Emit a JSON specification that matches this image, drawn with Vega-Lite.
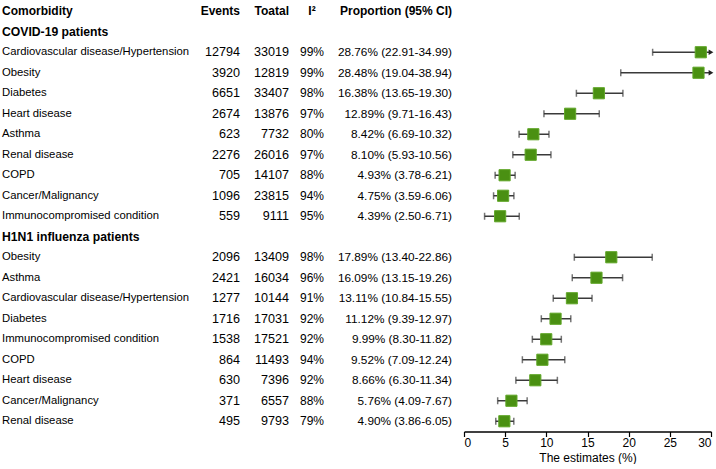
{
  "$schema": "https://vega.github.io/schema/vega-lite/v6.json",
  "padding": {"top": 1, "left": 2, "right": 5, "bottom": 0},
  "bounds": "flush",
  "spacing": 12,
  "background": "white",
  "config": {
    "view": {"stroke": null},
    "font": "Liberation Sans",
    "text": {"font": "Liberation Sans", "fontSize": 12, "color": "black", "baseline": "middle"},
    "axis": {"labelFont": "Liberation Sans", "titleFont": "Liberation Sans"}
  },
  "resolve": {"scale": {"y": "shared"}},
  "datasets": {
    "rows": [
      {"id": "r00", "kind": "header", "label": "Comorbidity", "events": "Events", "total": "Toatal", "i2": "I²", "prop": "Proportion (95% CI)"},
      {"id": "r01", "kind": "group", "label": "COVID-19 patients", "events": "", "total": "", "i2": "", "prop": ""},
      {"id": "r02", "kind": "item", "label": "Cardiovascular disease/Hypertension", "events": "12794", "total": "33019", "i2": "99%", "prop": "28.76% (22.91-34.99)", "est": 28.76, "lo": 22.91, "hi": 34.99},
      {"id": "r03", "kind": "item", "label": "Obesity", "events": "3920", "total": "12819", "i2": "99%", "prop": "28.48% (19.04-38.94)", "est": 28.48, "lo": 19.04, "hi": 38.94},
      {"id": "r04", "kind": "item", "label": "Diabetes", "events": "6651", "total": "33407", "i2": "98%", "prop": "16.38% (13.65-19.30)", "est": 16.38, "lo": 13.65, "hi": 19.30},
      {"id": "r05", "kind": "item", "label": "Heart disease", "events": "2674", "total": "13876", "i2": "97%", "prop": "12.89% (9.71-16.43)", "est": 12.89, "lo": 9.71, "hi": 16.43},
      {"id": "r06", "kind": "item", "label": "Asthma", "events": "623", "total": "7732", "i2": "80%", "prop": "8.42% (6.69-10.32)", "est": 8.42, "lo": 6.69, "hi": 10.32},
      {"id": "r07", "kind": "item", "label": "Renal disease", "events": "2276", "total": "26016", "i2": "97%", "prop": "8.10% (5.93-10.56)", "est": 8.10, "lo": 5.93, "hi": 10.56},
      {"id": "r08", "kind": "item", "label": "COPD", "events": "705", "total": "14107", "i2": "88%", "prop": "4.93% (3.78-6.21)", "est": 4.93, "lo": 3.78, "hi": 6.21},
      {"id": "r09", "kind": "item", "label": "Cancer/Malignancy", "events": "1096", "total": "23815", "i2": "94%", "prop": "4.75% (3.59-6.06)", "est": 4.75, "lo": 3.59, "hi": 6.06},
      {"id": "r10", "kind": "item", "label": "Immunocompromised condition", "events": "559", "total": "9111", "i2": "95%", "prop": "4.39% (2.50-6.71)", "est": 4.39, "lo": 2.50, "hi": 6.71},
      {"id": "r11", "kind": "group", "label": "H1N1 influenza patients", "events": "", "total": "", "i2": "", "prop": ""},
      {"id": "r12", "kind": "item", "label": "Obesity", "events": "2096", "total": "13409", "i2": "98%", "prop": "17.89% (13.40-22.86)", "est": 17.89, "lo": 13.40, "hi": 22.86},
      {"id": "r13", "kind": "item", "label": "Asthma", "events": "2421", "total": "16034", "i2": "96%", "prop": "16.09% (13.15-19.26)", "est": 16.09, "lo": 13.15, "hi": 19.26},
      {"id": "r14", "kind": "item", "label": "Cardiovascular disease/Hypertension", "events": "1277", "total": "10144", "i2": "91%", "prop": "13.11% (10.84-15.55)", "est": 13.11, "lo": 10.84, "hi": 15.55},
      {"id": "r15", "kind": "item", "label": "Diabetes", "events": "1716", "total": "17031", "i2": "92%", "prop": "11.12% (9.39-12.97)", "est": 11.12, "lo": 9.39, "hi": 12.97},
      {"id": "r16", "kind": "item", "label": "Immunocompromised condition", "events": "1538", "total": "17521", "i2": "92%", "prop": "9.99% (8.30-11.82)", "est": 9.99, "lo": 8.30, "hi": 11.82},
      {"id": "r17", "kind": "item", "label": "COPD", "events": "864", "total": "11493", "i2": "94%", "prop": "9.52% (7.09-12.24)", "est": 9.52, "lo": 7.09, "hi": 12.24},
      {"id": "r18", "kind": "item", "label": "Heart disease", "events": "630", "total": "7396", "i2": "92%", "prop": "8.66% (6.30-11.34)", "est": 8.66, "lo": 6.30, "hi": 11.34},
      {"id": "r19", "kind": "item", "label": "Cancer/Malignancy", "events": "371", "total": "6557", "i2": "88%", "prop": "5.76% (4.09-7.67)", "est": 5.76, "lo": 4.09, "hi": 7.67},
      {"id": "r20", "kind": "item", "label": "Renal disease", "events": "495", "total": "9793", "i2": "79%", "prop": "4.90% (3.86-6.05)", "est": 4.90, "lo": 3.86, "hi": 6.05}
    ]
  },
  "hconcat": [
    {
      "width": 186,
      "height": {"step": 20.5},
      "data": {"name": "rows"},
      "encoding": {
        "y": {"field": "id", "type": "nominal", "scale": {"type": "point"}, "axis": null},
        "x": {"value": 0},
        "text": {"field": "label", "type": "nominal"}
      },
      "layer": [
        {"transform": [{"filter": "datum.kind == 'header'"}], "mark": {"type": "text", "align": "left", "fontWeight": "bold"}},
        {"transform": [{"filter": "datum.kind == 'group'"}], "mark": {"type": "text", "align": "left", "fontWeight": "bold", "fontSize": 12.2}},
        {"transform": [{"filter": "datum.kind == 'item'"}], "mark": {"type": "text", "align": "left", "fontSize": 11.3}}
      ]
    },
    {
      "width": 40,
      "height": {"step": 20.5},
      "data": {"name": "rows"},
      "encoding": {
        "y": {"field": "id", "type": "nominal", "scale": {"type": "point"}, "axis": null},
        "x": {"value": "width"},
        "text": {"field": "events", "type": "nominal"}
      },
      "layer": [
        {"transform": [{"filter": "datum.kind == 'header'"}], "mark": {"type": "text", "align": "right", "fontWeight": "bold"}},
        {"transform": [{"filter": "datum.kind == 'item'"}], "mark": {"type": "text", "align": "right", "fontSize": 12.6}}
      ]
    },
    {
      "width": 37,
      "height": {"step": 20.5},
      "data": {"name": "rows"},
      "encoding": {
        "y": {"field": "id", "type": "nominal", "scale": {"type": "point"}, "axis": null},
        "x": {"value": "width"},
        "text": {"field": "total", "type": "nominal"}
      },
      "layer": [
        {"transform": [{"filter": "datum.kind == 'header'"}], "mark": {"type": "text", "align": "right", "fontWeight": "bold"}},
        {"transform": [{"filter": "datum.kind == 'item'"}], "mark": {"type": "text", "align": "right", "fontSize": 12.6}}
      ]
    },
    {
      "width": 22,
      "height": {"step": 20.5},
      "data": {"name": "rows"},
      "encoding": {
        "y": {"field": "id", "type": "nominal", "scale": {"type": "point"}, "axis": null},
        "text": {"field": "i2", "type": "nominal"}
      },
      "layer": [
        {"transform": [{"filter": "datum.kind == 'header'"}], "mark": {"type": "text", "align": "center", "fontWeight": "bold"}},
        {"transform": [{"filter": "datum.kind == 'item'"}], "mark": {"type": "text", "align": "center"}}
      ]
    },
    {
      "width": 117,
      "height": {"step": 20.5},
      "data": {"name": "rows"},
      "encoding": {
        "y": {"field": "id", "type": "nominal", "scale": {"type": "point"}, "axis": null},
        "x": {"value": "width"},
        "text": {"field": "prop", "type": "nominal"}
      },
      "layer": [
        {"transform": [{"filter": "datum.kind == 'header'"}], "mark": {"type": "text", "align": "right", "fontWeight": "bold"}},
        {"transform": [{"filter": "datum.kind == 'item'"}], "mark": {"type": "text", "align": "right", "fontSize": 11.8}}
      ]
    },
    {
      "width": 247,
      "height": {"step": 20.5},
      "data": {"name": "rows"},
      "transform": [{"filter": "datum.kind == 'item'"}],
      "encoding": {
        "y": {"field": "id", "type": "nominal", "scale": {"type": "point"}, "axis": null}
      },
      "layer": [
        {
          "mark": {"type": "rule", "color": "#3a3a3a", "strokeWidth": 1.5},
          "encoding": {
            "x": {"field": "lo", "type": "quantitative",
              "scale": {"domain": [0, 30], "nice": false, "zero": false, "clamp": true},
              "axis": {"values": [0, 5, 10, 15, 20, 25, 30], "grid": false, "title": "The estimates (%)",
                "domainColor": "black", "domainWidth": 1.5, "tickColor": "black", "tickWidth": 1.2, "tickSize": 5,
                "labelColor": "black", "labelFontSize": 12, "labelPadding": 1, "titleColor": "black", "titleFontSize": 12,
                "titleFontWeight": "normal", "titlePadding": 4, "offset": 0}},
            "x2": {"field": "hi"}
          }
        },
        {
          "mark": {"type": "tick", "color": "#3a3a3a", "thickness": 1.5, "size": 7, "orient": "vertical"},
          "encoding": {"x": {"field": "lo", "type": "quantitative"}}
        },
        {
          "transform": [{"filter": "datum.hi <= 30"}],
          "mark": {"type": "tick", "color": "#3a3a3a", "thickness": 1.5, "size": 7, "orient": "vertical"},
          "encoding": {"x": {"field": "hi", "type": "quantitative"}}
        },
        {
          "transform": [{"filter": "datum.hi > 30"}],
          "mark": {"type": "point", "shape": "triangle-right", "filled": true, "color": "#222222", "size": 30, "opacity": 1},
          "encoding": {"x": {"field": "hi", "type": "quantitative"}}
        },
        {
          "mark": {"type": "square", "filled": true, "color": "#4a9012", "stroke": "#62a82a", "strokeWidth": 1, "size": 125, "opacity": 1},
          "encoding": {"x": {"field": "est", "type": "quantitative"}}
        }
      ]
    }
  ]
}
